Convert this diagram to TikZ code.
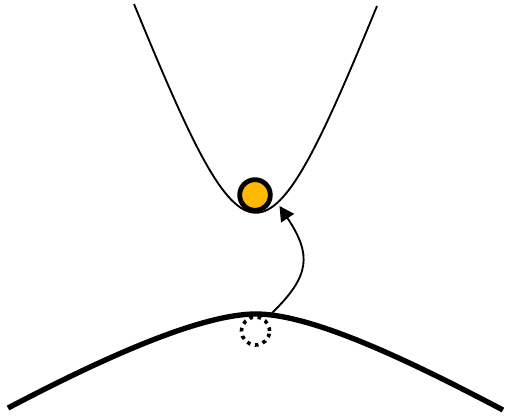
\documentclass[tikz,border=0pt]{standalone}
\usepackage{xcolor}
\definecolor{amber}{RGB}{255,186, 0}
\definecolor{ink}{RGB}{ 0,  0,  0}
\usepackage{tikz}
\usetikzlibrary{arrows.meta, positioning, calc}
\tikzset{
  wellcurve/.style={draw=ink, line width=1.4pt},
  hillcurve/.style={draw=ink, line width=4pt},
  ballnode/.style={circle, draw=ink, fill=amber, line width=3.6pt,
    minimum size=23pt, inner sep=0pt},
  ghostnode/.style={circle, draw=ink, line width=2.7pt,
    dash pattern=on 2.7pt off 3.4pt, minimum size=21pt, inner sep=0pt},
  jumparrow/.style={-{Triangle[length=11pt, width=11.5pt]}, draw=ink, line width=1.4pt}
}
\begin{document}
\begin{tikzpicture}[x=0.75pt, y=-0.75pt]
  \useasboundingbox (0,0) rectangle (506,417);

  % Upper well
  \draw[wellcurve] (134,4) .. controls (248,281) and (263,283) .. (377,6);

  % Lower hill
  \draw[hillcurve] (8,408) .. controls (88,366) and (196,314) .. (256,314)
    .. controls (316,314) and (423,368) .. (503,410);

  % Ball in the well and its old place under the hill
  \node[ballnode]  (ball)  at (255,195) {};
  \node[ghostnode] (ghost) at (255.5,331) {};

  % Jump from hill to well
  \coordinate (lift) at ($(ghost.center)+(16.5,-18)$);
  \coordinate (land) at ($(ball.center)+(24.5,11)$);
  \draw[jumparrow] (lift) .. controls (310,276) and (312,255) .. (land);

\end{tikzpicture}
\end{document}
